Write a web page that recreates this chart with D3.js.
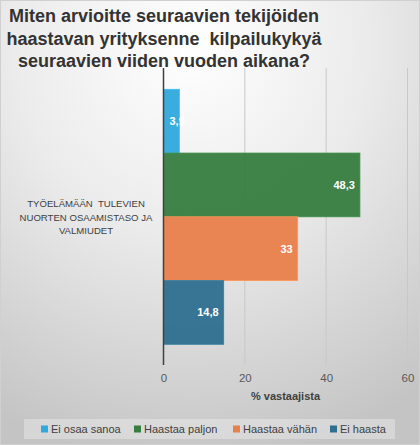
<!DOCTYPE html>
<html>
<head>
<meta charset="utf-8">
<script src="https://cdn.jsdelivr.net/npm/d3@7"></script>
<style>
  html, body { margin: 0; padding: 0; }
  svg { display: block; font-family: "Liberation Sans", Arial, sans-serif; }
</style>
</head>
<body>
<script>
// data
var category = ['TYÖELÄMÄÄN  TULEVIEN', 'NUORTEN OSAAMISTASO JA', 'VALMIUDET'];
var seriesNames = ['Ei osaa sanoa', 'Haastaa paljon', 'Haastaa vähän', 'Ei haasta'];
var seriesValues = [3.9, 48.3, 33, 14.8];
var seriesColors = ['#2fa8dc', '#377d3f', '#e8804a', '#2e6e8e'];
var xTicks = [0, 20, 40, 60];
var titleLines = ['Miten arvioitte seuraavien tekijöiden', 'haastavan yrityksenne  kilpailukykyä', 'seuraavien viiden vuoden aikana?'];

var width = 420, height = 445;

var svg = d3.select('body').append('svg')
    .attr('width', width)
    .attr('height', height);

// background gradient
var defs = svg.append('defs');
var grad = defs.append('radialGradient')
    .attr('id', 'bg')
    .attr('cx', '45%').attr('cy', '10%').attr('r', '95%');
grad.append('stop').attr('offset', '0%').attr('stop-color', '#ffffff');
grad.append('stop').attr('offset', '45%').attr('stop-color', '#ebebeb');
grad.append('stop').attr('offset', '100%').attr('stop-color', '#c4c4c4');

svg.append('rect')
    .attr('x', 0.5).attr('y', 0.5)
    .attr('width', width - 1).attr('height', height - 1)
    .attr('fill', 'url(#bg)')
    .attr('stroke', '#d0d0d0');

// title
svg.append('g').selectAll('text').data(titleLines).enter().append('text')
    .attr('x', 164)
    .attr('y', function(d, i) { return 22 + i * 22.5; })
    .attr('text-anchor', 'middle')
    .attr('font-size', 18)
    .attr('font-weight', 'bold')
    .attr('fill', '#333333')
    .style('white-space', 'pre')
    .text(function(d) { return d; });

// scales
var x = d3.scaleLinear().domain([0, 60]).range([163.5, 407.5]);
var y = d3.scaleBand().domain(seriesNames).range([89.3, 344.3]).padding(0);
var plotTop = 68, plotBottom = 365;

// gridlines
svg.append('g').selectAll('line').data(xTicks.slice(1)).enter().append('line')
    .attr('x1', function(d) { return x(d); })
    .attr('x2', function(d) { return x(d); })
    .attr('y1', plotTop).attr('y2', plotBottom)
    .attr('stroke', '#c8c8c8')
    .attr('stroke-width', 1);

// bars
svg.append('g').selectAll('rect').data(seriesValues).enter().append('rect')
    .attr('x', x(0))
    .attr('y', function(d, i) { return y(seriesNames[i]); })
    .attr('width', function(d) { return x(d) - x(0); })
    .attr('height', y.bandwidth())
    .attr('fill', function(d, i) { return seriesColors[i]; })
    .attr('fill-opacity', 0.95)
    .attr('stroke', function(d, i) { return d3.color(seriesColors[i]).brighter(0.4); })
    .attr('stroke-width', 0.8);

// value labels
svg.append('g').selectAll('text').data(seriesValues).enter().append('text')
    .attr('x', function(d) { return (x(d) - x(0)) < 30 ? x(0) + 6 : x(d) - 5; })
    .attr('y', function(d, i) { return y(seriesNames[i]) + y.bandwidth() / 2 + 4; })
    .attr('text-anchor', function(d) { return (x(d) - x(0)) < 30 ? 'start' : 'end'; })
    .attr('font-size', 11)
    .attr('font-weight', 'bold')
    .attr('fill', '#ffffff')
    .text(function(d) { return String(d).replace('.', ','); });

// vertical axis line
svg.append('line')
    .attr('x1', x(0)).attr('x2', x(0))
    .attr('y1', plotTop).attr('y2', plotBottom)
    .attr('stroke', '#404040')
    .attr('stroke-width', 1.5);

// x axis tick labels
var xAxis = svg.append('g')
    .attr('transform', 'translate(0,' + plotBottom + ')')
    .call(d3.axisBottom(x).tickValues(xTicks).tickSize(0).tickPadding(9));
xAxis.select('.domain').remove();
xAxis.selectAll('text')
    .attr('font-size', 11.5)
    .attr('font-family', '"Liberation Sans", Arial, sans-serif')
    .attr('fill', '#595959');

svg.append('text')
    .attr('x', (x(0) + x(60)) / 2)
    .attr('y', 400)
    .attr('text-anchor', 'middle')
    .attr('font-size', 11)
    .attr('font-weight', 'bold')
    .attr('fill', '#404040')
    .text('% vastaajista');

// category label
svg.append('g').selectAll('text').data(category).enter().append('text')
    .attr('x', 86)
    .attr('y', function(d, i) { return 207 + i * 13.5; })
    .attr('text-anchor', 'middle')
    .attr('font-size', 9.6)
    .attr('fill', '#404040')
    .style('white-space', 'pre')
    .text(function(d) { return d; });

// legend
svg.append('rect')
    .attr('x', 24).attr('y', 419)
    .attr('width', 371).attr('height', 20)
    .attr('fill', '#ffffff')
    .attr('fill-opacity', 0.3);

var legendX = [41, 134, 233, 330];
var legend = svg.append('g').selectAll('g').data(seriesNames).enter().append('g')
    .attr('transform', function(d, i) { return 'translate(' + legendX[i] + ',429)'; });
legend.append('rect')
    .attr('x', 0).attr('y', -3.5)
    .attr('width', 7).attr('height', 7)
    .attr('fill', function(d, i) { return seriesColors[i]; });
legend.append('text')
    .attr('x', 10).attr('y', 4.2)
    .attr('font-size', 11)
    .attr('fill', '#404040')
    .text(function(d) { return d; });
</script>
</body>
</html>
